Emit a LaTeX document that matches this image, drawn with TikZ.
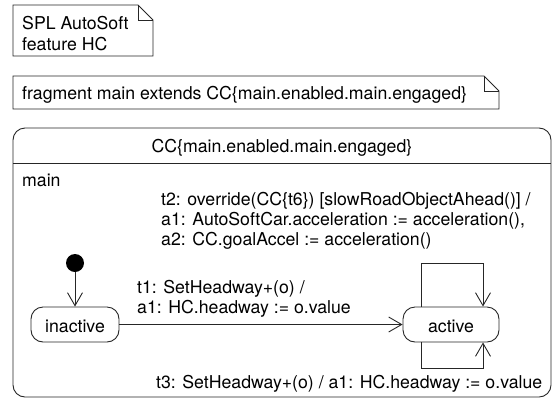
\documentclass[tikz,border=0pt]{standalone}
\usepackage{fontspec}
\setmainfont{TeX Gyre Heros}
\usetikzlibrary{arrows.meta}
\begin{document}
\begin{tikzpicture}[x=1pt,y=-1pt,
  every node/.style={font=\fontsize{17.7}{20}\selectfont},
  txt/.style={anchor=base west,inner sep=0pt,align=left},
  ln/.style={line width=0.9pt,draw=black!85},
  statebox/.style={ln,rounded corners=12pt,inner sep=0pt},
  opentip/.style={-{Straight Barb[length=13pt,width=15pt,line width=0.9pt]}}
]
\useasboundingbox (0,0) rectangle (553,402);

% note: SPL feature
\draw[ln] (13,5) -- (138,5) -- (153,20) -- (153,56) -- (13,56) -- cycle;
\draw[ln] (138,5) -- (138,20) -- (153,20);
\node[txt] (spl) at (22,29) {SPL AutoSoft};
\node[txt] (feat) at (22,50) {feature HC};

% note: fragment header
\draw[ln] (13,76) -- (484,76) -- (499,91) -- (499,109) -- (13,109) -- cycle;
\draw[ln] (484,76) -- (484,91) -- (499,91);
\node[txt] (frag) at (22,99) {fragment main extends CC\{main.enabled.main.engaged\}};

% enclosing state with title compartment
\draw[ln,rounded corners=12pt] (13,128) rectangle (551,397);
\draw[ln] (13,163) -- (551,163);
\node[anchor=base,inner sep=0pt] (title) at (282,152) {CC\{main.enabled.main.engaged\}};
\node[txt] (region) at (22,186) {main};

% states
\node[circle,fill=black,minimum size=18pt,inner sep=0pt] (init) at (75,263) {};
\node[statebox,draw,minimum width=88pt,minimum height=35pt] (inactive) at (75,324.5) {};
\node[anchor=base,inner sep=0pt] (inactivelbl) at (75,332) {inactive};
\node[statebox,draw,minimum width=96pt,minimum height=35pt] (active) at (451,324.5) {};
\node[anchor=base,inner sep=0pt] (activelbl) at (451,332) {active};

% transitions
\draw[ln,opentip] (init) -- (inactive);
\draw[ln,opentip] (inactive) -- (active);

\coordinate (ta) at (421,263);
\coordinate (tb) at (483,263);
\draw[ln,opentip] (active.north -| ta) -- (ta) -- (tb) -- (active.north -| tb);
\coordinate (ba) at (421,368);
\coordinate (bb) at (483,368);
\draw[ln,opentip] (active.south -| ba) -- (ba) -- (bb) -- (active.south -| bb);

% transition labels
\node[txt] (t2a) at (161,205) {t2: override(CC\{t6\}) [slowRoadObjectAhead()] /};
\node[txt] (t2b) at (161,225) {a1: AutoSoftCar.acceleration := acceleration(),};
\node[txt] (t2c) at (161,245) {a2: CC.goalAccel := acceleration()};
\node[txt] (t1a) at (137,293) {t1: SetHeadway+(o) /};
\node[txt] (t1b) at (137,313) {a1: HC.headway := o.value};
\node[txt] (t3) at (156,388) {t3: SetHeadway+(o) / a1: HC.headway := o.value};
\end{tikzpicture}
\end{document}
